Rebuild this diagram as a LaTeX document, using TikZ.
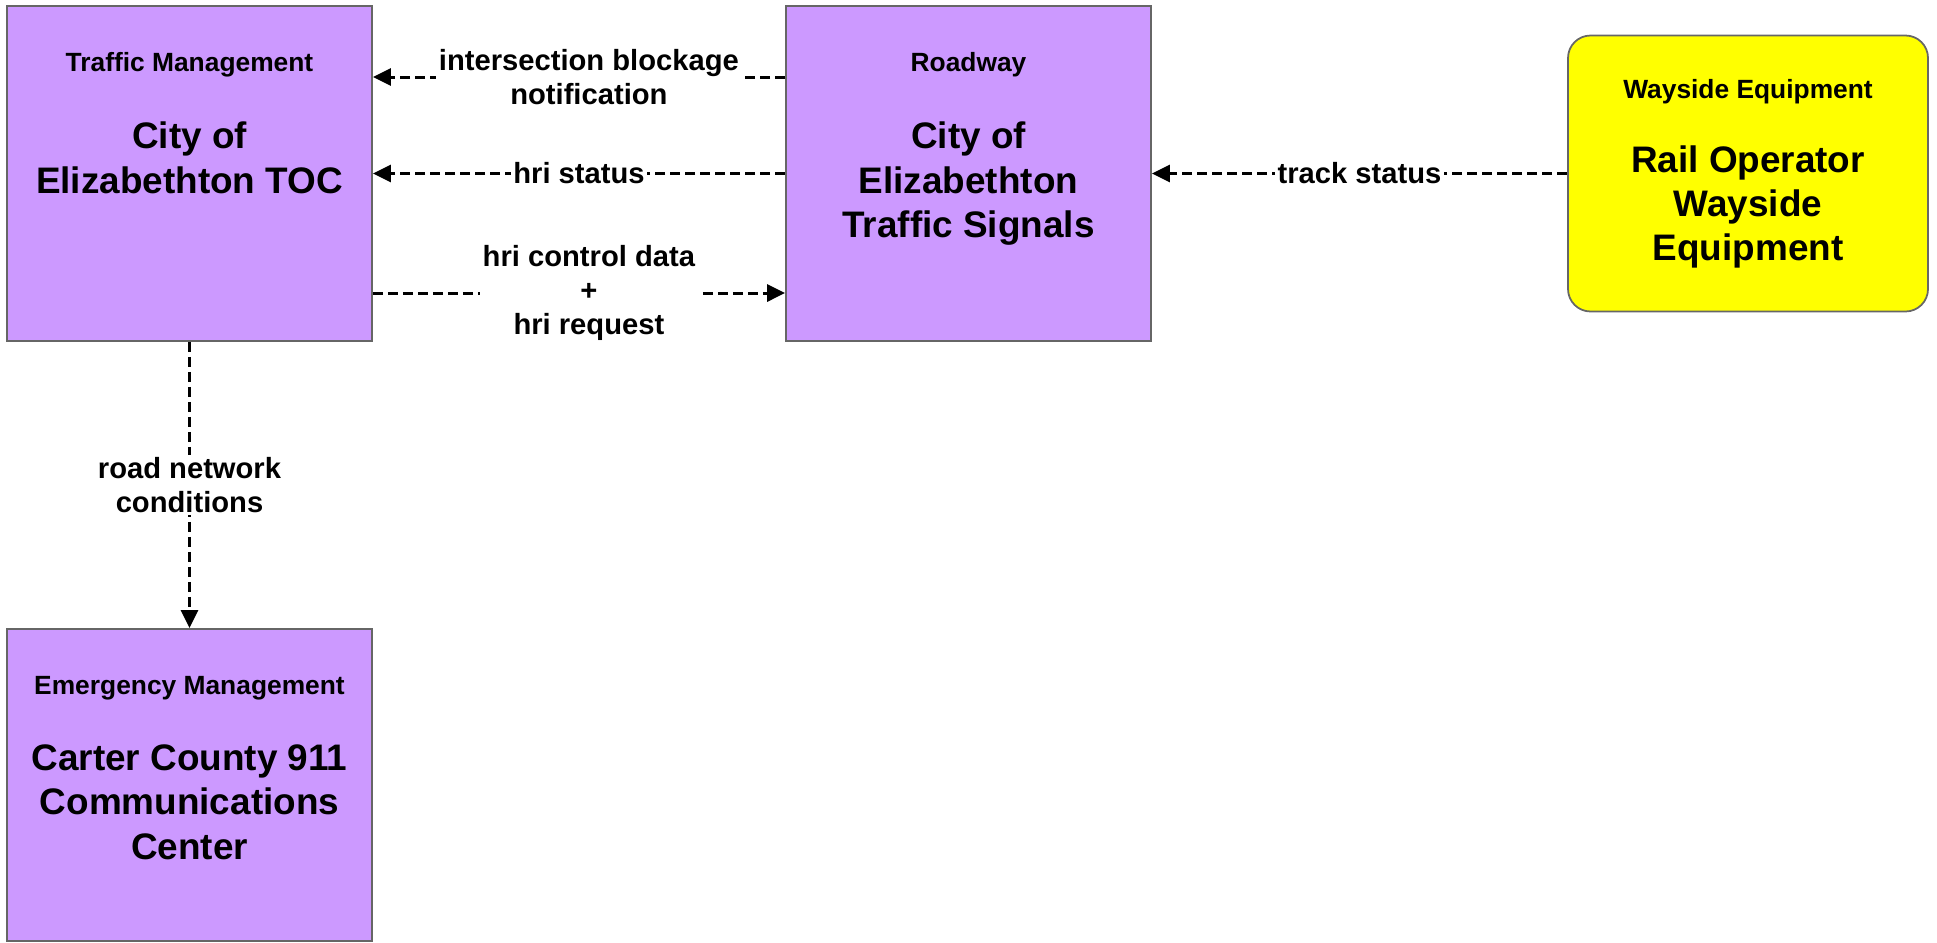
\documentclass[tikz,border=0pt]{standalone}
\usepackage{fontspec}
\setmainfont{Liberation Sans}
\usepackage{xcolor}
\usepackage{tikz}
\usetikzlibrary{positioning, arrows.meta}

\definecolor{sysviolet}{HTML}{CC99FF}
\definecolor{sysyellow}{HTML}{FFFF00}

\tikzset{
  sysbox/.style={draw=black!60, line width=1pt, fill=sysviolet, minimum width=7.3cm, minimum height=6.7cm, inner sep=0pt},
  extbox/.style={sysbox, fill=sysyellow, rounded corners=0.45cm, minimum width=7.2cm, minimum height=5.52cm},
  boxtitle/.style={font=\bfseries\fontsize{15}{18}\selectfont, inner sep=0pt},
  boxname/.style={font=\bfseries\fontsize{21}{25.2}\selectfont, align=center, inner sep=0pt},
  flow/.style={-{Triangle[length=0.36cm, width=0.34cm]}, line width=1.7pt, dash pattern=on 0.2cm off 0.1cm},
  flowlabel/.style={font=\bfseries\fontsize{16.6}{19.4}\selectfont, align=center, fill=white, inner sep=1.5pt}
}

\begin{document}
\begin{tikzpicture}
  \useasboundingbox (0,0) rectangle (38.74,-18.84);

  % boxes
  \node[sysbox] (toc) at (3.79,-3.47) {};
  \node[sysbox] (sig) at (19.37,-3.47) {};
  \node[extbox] (way) at (34.96,-3.47) {};
  \node[sysbox, minimum height=6.24cm] (ecc) at (3.79,-15.7) {};

  % titles and names
  \node[boxtitle] (toctitle) at ([yshift=-1.2cm]toc.north) {Traffic Management};
  \node[boxname, below=0.88cm of toctitle] (tocname) {City of\\Elizabethton TOC};
  \node[boxtitle] (sigtitle) at ([yshift=-1.2cm]sig.north) {Roadway};
  \node[boxname, below=0.88cm of sigtitle] (signame) {City of\\Elizabethton\\Traffic Signals};
  \node[boxtitle] (waytitle) at ([yshift=-1.14cm]way.north) {Wayside Equipment};
  \node[boxname, below=0.82cm of waytitle] (wayname) {Rail Operator\\Wayside\\Equipment};
  \node[boxtitle] (ecctitle) at ([yshift=-1.2cm]ecc.north) {Emergency Management};
  \node[boxname, below=0.88cm of ecctitle] (eccname) {Carter County 911\\Communications\\Center};

  % flows
  \draw[flow] ([yshift=1.93cm]sig.west) -- node[flowlabel, pos=0.476] {intersection blockage\\notification} ([yshift=1.93cm]toc.east);
  \draw[flow] (sig.west) -- node[flowlabel] {hri status} (toc.east);
  \draw[flow] ([yshift=-2.39cm]toc.east) -- node[flowlabel, pos=0.524] {hri control data\\+\\hri request} ([yshift=-2.39cm]sig.west);
  \draw[flow] (way.west) -- node[flowlabel] {track status} (sig.east);
  \draw[flow] (toc.south) -- node[flowlabel] {road network\\conditions} (ecc.north);
\end{tikzpicture}
\end{document}
